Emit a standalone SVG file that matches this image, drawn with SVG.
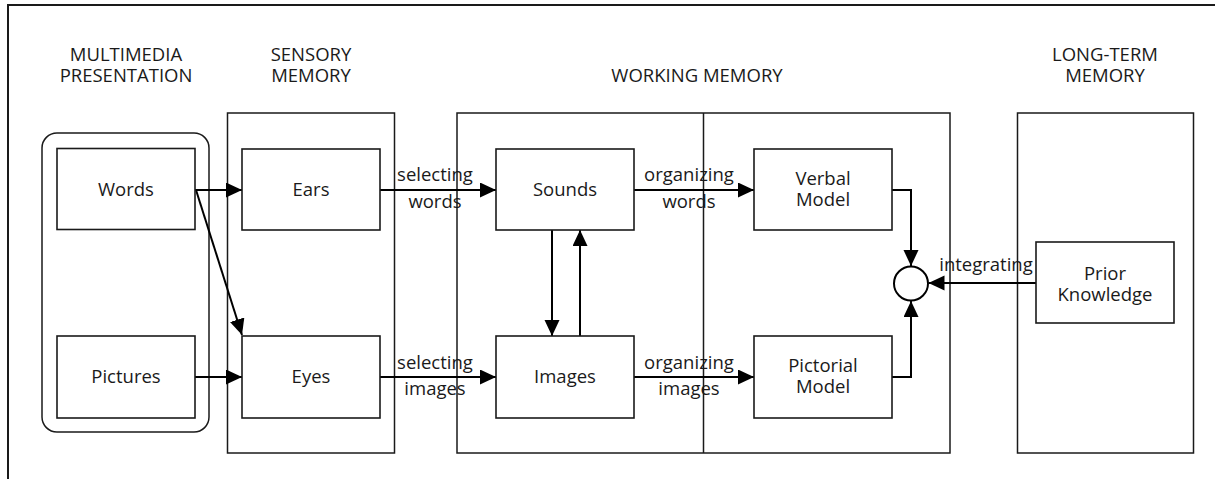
<svg xmlns="http://www.w3.org/2000/svg" width="1215" height="479" viewBox="0 0 1215 479">
  <style>
    text { font-family: "Open Sans", "Noto Sans", "DejaVu Sans", sans-serif; font-size: 18.5px; fill: #1a1a1a; text-anchor: middle; }
    .box { fill: #ffffff; stroke: #1a1a1a; stroke-width: 1.6; }
    .zone { fill: none; stroke: #1a1a1a; stroke-width: 1.5; }
    .frame { fill: none; stroke: #1a1a1a; stroke-width: 2; }
    .wire { fill: none; stroke: #000000; stroke-width: 2; }
  </style>
  <defs>
    <marker id="arrow" markerUnits="userSpaceOnUse" markerWidth="17" markerHeight="16" refX="16" refY="7.5" orient="auto">
      <path d="M0,0 L16,7.5 L0,15 Z" fill="#000000"/>
    </marker>
  </defs>

  <rect width="1215" height="479" fill="#ffffff"/>
  <path class="frame" d="M8,479 V5 H1215"/>

  <!-- column headings -->
  <g id="headings">
    <text x="126" y="61">MULTIMEDIA<tspan x="126" dy="21">PRESENTATION</tspan></text>
    <text x="311" y="61">SENSORY<tspan x="311" dy="21">MEMORY</tspan></text>
    <text x="697" y="82">WORKING MEMORY</text>
    <text x="1105" y="61">LONG-TERM<tspan x="1105" dy="21">MEMORY</tspan></text>
  </g>

  <!-- stage containers -->
  <g id="multimedia-presentation">
    <rect class="zone" x="42" y="133" width="167" height="299" rx="15"/>
  </g>
  <g id="sensory-memory">
    <rect class="zone" x="227.5" y="113" width="167" height="340"/>
  </g>
  <g id="working-memory">
    <rect class="zone" x="457" y="113" width="493" height="340"/>
    <line class="zone" x1="703.5" y1="113" x2="703.5" y2="453"/>
  </g>
  <g id="long-term-memory">
    <rect class="zone" x="1017.5" y="113" width="176" height="340"/>
  </g>

  <!-- connectors -->
  <g id="connectors">
    <line class="wire" x1="195" y1="190" x2="242" y2="190" marker-end="url(#arrow)"/>
    <line class="wire" x1="196" y1="190" x2="242" y2="335" marker-end="url(#arrow)"/>
    <line class="wire" x1="195" y1="377" x2="242" y2="377" marker-end="url(#arrow)"/>
    <line class="wire" x1="380" y1="190" x2="496" y2="190" marker-end="url(#arrow)"/>
    <line class="wire" x1="380" y1="377" x2="496" y2="377" marker-end="url(#arrow)"/>
    <line class="wire" x1="634" y1="190" x2="754" y2="190" marker-end="url(#arrow)"/>
    <line class="wire" x1="634" y1="377" x2="754" y2="377" marker-end="url(#arrow)"/>
    <line class="wire" x1="552" y1="230" x2="552" y2="336" marker-end="url(#arrow)"/>
    <line class="wire" x1="580" y1="336" x2="580" y2="230" marker-end="url(#arrow)"/>
    <path class="wire" d="M892,190 H911 V266" marker-end="url(#arrow)"/>
    <path class="wire" d="M892,377 H911 V301" marker-end="url(#arrow)"/>
    <line class="wire" x1="1036" y1="283" x2="928.5" y2="283" marker-end="url(#arrow)"/>
    <text x="435" y="181">selecting</text>
    <text x="435" y="208">words</text>
    <text x="435" y="369">selecting</text>
    <text x="435" y="395">images</text>
    <text x="689" y="181">organizing</text>
    <text x="689" y="208">words</text>
    <text x="689" y="369">organizing</text>
    <text x="689" y="395">images</text>
    <text x="986" y="271">integrating</text>
  </g>

  <!-- nodes -->
  <g id="words">
    <rect class="box" x="57" y="148.5" width="138" height="81"/>
    <text x="126" y="196">Words</text>
  </g>
  <g id="pictures">
    <rect class="box" x="57" y="336" width="138" height="82"/>
    <text x="126" y="383">Pictures</text>
  </g>
  <g id="ears">
    <rect class="box" x="242" y="149" width="138" height="81"/>
    <text x="311" y="196">Ears</text>
  </g>
  <g id="eyes">
    <rect class="box" x="242" y="336" width="138" height="82"/>
    <text x="311" y="383">Eyes</text>
  </g>
  <g id="sounds">
    <rect class="box" x="496" y="149" width="138" height="81"/>
    <text x="565" y="196">Sounds</text>
  </g>
  <g id="images">
    <rect class="box" x="496" y="336" width="138" height="82"/>
    <text x="565" y="383">Images</text>
  </g>
  <g id="verbal-model">
    <rect class="box" x="754" y="149" width="138" height="81"/>
    <text x="823" y="185">Verbal<tspan x="823" dy="21">Model</tspan></text>
  </g>
  <g id="pictorial-model">
    <rect class="box" x="754" y="336" width="138" height="82"/>
    <text x="823" y="372">Pictorial<tspan x="823" dy="21">Model</tspan></text>
  </g>
  <g id="integration">
    <circle cx="911" cy="283.5" r="17" fill="#ffffff" stroke="#000000" stroke-width="2"/>
  </g>
  <g id="prior-knowledge">
    <rect class="box" x="1036" y="242" width="138" height="81"/>
    <text x="1105" y="280">Prior<tspan x="1105" dy="21">Knowledge</tspan></text>
  </g>
</svg>
